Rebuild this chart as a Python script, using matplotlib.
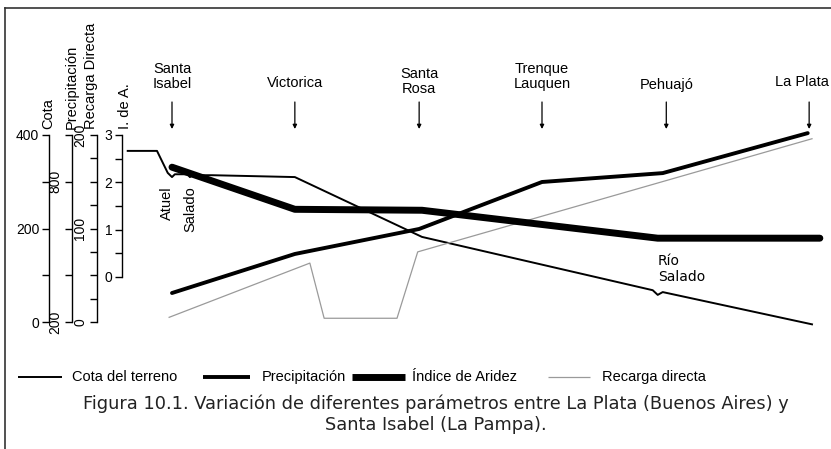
import matplotlib
matplotlib.use('Agg')
import matplotlib.pyplot as plt
import matplotlib.transforms as mtrans
from matplotlib.lines import Line2D

# ---------------- data ----------------
stations = ['Santa\nIsabel', 'Victorica', 'Santa\nRosa', 'Trenque\nLauquen', 'Pehuajó', 'La Plata']
station_km = [0, 172, 346, 518, 692, 892]

cota_km = [-62, -21, -6, 0, 4, 22, 25, 29, 56, 172, 350, 673, 680, 687, 896]
cota_m = [366, 366, 319, 310, 316, 316, 310, 314, 314, 310, 182, 68, 58, 64, -5]

precip_km = [0, 172, 346, 518, 687, 890]
precip_mm = [324, 491, 598, 799, 837, 1008]

aridez_km = [0, 172, 350, 680, 907]
aridez = [2.32, 1.43, 1.41, 0.82, 0.82]

recarga_km = [-4, 193, 213, 315, 344, 896]
recarga_mm = [5, 63, 4, 4, 75, 196]

legend_labels = ['Cota del terreno', 'Precipitación', 'Índice de Aridez', 'Recarga directa']
caption = ('Figura 10.1. Variación de diferentes parámetros entre La Plata (Buenos Aires) y\n'
           'Santa Isabel (La Pampa).')

# ---------------- layout ----------------
W, H, DPI = 831, 449, 100
FONT = 'Liberation Sans'
plt.rcParams['font.family'] = [FONT, 'DejaVu Sans']

fig = plt.figure(figsize=(W / DPI, H / DPI), dpi=DPI)
fig.patch.set_facecolor('white')

PL, PR, PT, PB = 120, 831, 95, 345      # plot area in pixels
KM_PER_PX = 1.4
X0 = 172                                # pixel of Santa Isabel
xlim = ((PL - X0) * KM_PER_PX, (PR - X0) * KM_PER_PX)
rect = [PL / W, 1 - PB / H, (PR - PL) / W, (PB - PT) / H]


def fy(py):
    return 1 - py / H


def fx(px):
    return px / W


def ylim_for(v0, p0, v1, p1):
    s = (v1 - v0) / (p0 - p1)
    return (v0 - (PB - p0) * s, v0 + (p0 - PT) * s)


def series_ax(lims):
    a = fig.add_axes(rect)
    a.set_xlim(xlim)
    a.set_ylim(*lims)
    a.axis('off')
    return a


# scales: (value at bottom, px), (value at top, px)
COTA = (0, 322, 400, 135)
PREC = (200, 322, 1000, 135)
RECA = (0, 322, 200, 135)
ARID = (0, 277, 3, 135)

ax_c = series_ax(ylim_for(*COTA))
ax_p = series_ax(ylim_for(*PREC))
ax_r = series_ax(ylim_for(*RECA))
ax_a = series_ax(ylim_for(*ARID))

STYLES = [dict(color='black', lw=1.4),
          dict(color='black', lw=2.8, solid_capstyle='round'),
          dict(color='black', lw=5, solid_capstyle='round'),
          dict(color='#9a9a9a', lw=0.9)]

ax_r.plot(recarga_km, recarga_mm, clip_on=False, **STYLES[3])
ax_c.plot(cota_km, cota_m, clip_on=False, **STYLES[0])
ax_p.plot(precip_km, precip_mm, clip_on=False, **STYLES[1])
ax_a.plot(aridez_km, aridez, clip_on=False, **STYLES[2])

blend = mtrans.blended_transform_factory(ax_c.transData, fig.transFigure)

# station labels and arrows
label_bottom = [91, 90, 96, 91, 92, 89]
label_shift_px = [0, 0, 0, 0, 0, -7]
for name, km, lb, sh in zip(stations, station_km, label_bottom, label_shift_px):
    ax_c.annotate('', xy=(km, fy(129)), xytext=(km, fy(102)),
                  xycoords=blend, textcoords=blend,
                  arrowprops=dict(arrowstyle='-|>', color='black', lw=0.9,
                                  mutation_scale=6, shrinkA=0, shrinkB=0))
    ax_c.text(km + sh * KM_PER_PX, fy(lb), name, transform=blend,
              ha='center', va='bottom', fontsize=10.5, linespacing=1.1)

# river annotations
ax_c.text(-7, fy(186), 'Atuel', rotation=90, ha='center', va='top', fontsize=10.5,
          transform=blend)
ax_c.text(25, fy(186), 'Salado', rotation=90, ha='center', va='top', fontsize=10.5,
          transform=blend)
ax_c.text(680, fy(284), 'Río\nSalado', ha='left', va='bottom', fontsize=10,
          linespacing=1.15, transform=blend, family=['DejaVu Sans'])


# ---------------- scale axes ----------------
def scale_ax(xpx, sc, major, minor, labels, rot):
    v0, p0, v1, p1 = sc
    a = fig.add_axes([xpx / W, fy(p0), 0.0001, (p0 - p1) / H])
    a.set_ylim(v0, v1)
    for s in ['top', 'right', 'bottom']:
        a.spines[s].set_visible(False)
    a.spines['left'].set_linewidth(1.0)
    a.set_xticks([])
    a.patch.set_visible(False)
    a.set_yticks(major)
    a.set_yticklabels(labels)
    a.set_yticks(minor, minor=True)
    a.tick_params(axis='y', which='both', direction='out', length=5, width=1,
                  labelsize=10, pad=2)
    if rot:
        for t in a.get_yticklabels():
            t.set_rotation(90)
            t.set_va('center')
    return a


scale_ax(49, COTA, [0, 200, 400], [100, 300], ['0', '200', '400'], False)
scale_ax(72, PREC, [200, 400, 600, 800, 1000], [], ['200', '', '', '800', ''], True)
scale_ax(97, RECA, list(range(0, 201, 25)), [],
         ['0', '', '', '', '100', '', '', '', '200'], True)
scale_ax(122, ARID, [0, 1, 2, 3], [0.5, 1.5, 2.5], ['0', '1', '2', '3'], False)

for x, txt in [(48, 'Cota'), (72, 'Precipitación'), (91, 'Recarga Directa'), (125, 'I. de A.')]:
    fig.text(fx(x), fy(129), txt, rotation=90, ha='center', va='bottom', fontsize=10.5)

# ---------------- legend (manual layout) ----------------
LEG_Y = 377
leg_line_px = [(18, 62), (203, 250), (352, 405), (548, 590)]
leg_text_px = [72, 262, 412, 602]
for (x0, x1), tx, lab, st in zip(leg_line_px, leg_text_px, legend_labels, STYLES):
    st2 = {k: v for k, v in st.items() if k != 'solid_capstyle'}
    fig.add_artist(Line2D([fx(x0), fx(x1)], [fy(LEG_Y), fy(LEG_Y)],
                          transform=fig.transFigure, solid_capstyle='butt', **st2))
    fig.text(fx(tx), fy(LEG_Y), lab, ha='left', va='center', fontsize=10.5,
             fontstretch='condensed')

# ---------------- caption ----------------
fig.text(fx(436), fy(414), caption, ha='center', va='center', fontsize=12.8,
         family=['DejaVu Sans'], linespacing=1.2, color='#222222')

# ---------------- frame ----------------
fig.add_artist(Line2D([fx(5), 1], [fy(8), fy(8)], color='#333333', lw=1.2,
                      transform=fig.transFigure))
fig.add_artist(Line2D([fx(5), fx(5)], [fy(8), 0], color='#333333', lw=1.2,
                      transform=fig.transFigure))

fig.savefig('out.png', dpi=DPI)
